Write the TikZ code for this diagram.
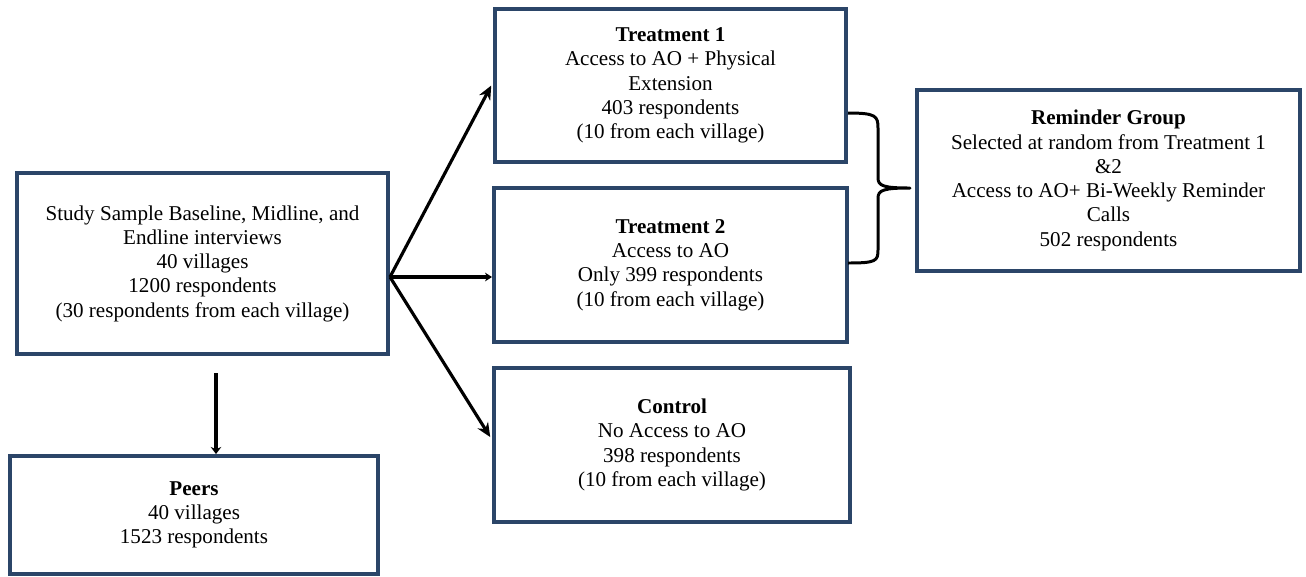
\documentclass[tikz,border=0pt]{standalone}
\usepackage{fontspec}
\setmainfont{Liberation Serif}
\usetikzlibrary{arrows.meta}
\definecolor{boxblue}{HTML}{2B4568}

\begin{document}
\begin{tikzpicture}[x=0.02cm,y=-0.02cm,->,>={Stealth[length=8pt,width=7pt]},line width=1.8pt,
font=\fontsize{12}{13.8}\selectfont]
\tikzstyle{group}=[draw=boxblue,line width=2.3pt,align=center,inner sep=2pt]

\useasboundingbox (0,0) rectangle (1306,576);

\node[group,minimum width=7.42cm,minimum height=3.62cm] (S) at (202.5,263.5)
{Study Sample Baseline, Midline, and\\ Endline interviews\\ 40 villages\\ 1200 respondents\\ (30 respondents from each village)};
\node[group,minimum width=7.36cm,minimum height=2.36cm] (P) at (194,515)
{\textbf{Peers}\\ 40 villages\\ 1523 respondents};
\node[group,minimum width=7.02cm,minimum height=3.06cm] (T1) at (670.5,85.5)
{\textbf{Treatment 1}\\ Access to AO + Physical\\ Extension\\ 403 respondents\\ (10 from each village)};
\node[group,minimum width=7.06cm,minimum height=3.08cm] (T2) at (670.5,265)
{\textbf{Treatment 2}\\ Access to AO\\ Only 399 respondents\\ (10 from each village)};
\node[group,minimum width=7.12cm,minimum height=3.08cm] (C) at (672,445)
{\textbf{Control}\\ No Access to AO\\ 398 respondents\\ (10 from each village)};
\node[group,minimum width=7.66cm,minimum height=3.62cm] (R) at (1108.5,180.5)
{\textbf{Reminder Group}\\ Selected at random from Treatment 1\\ \&2\\ Access to AO+ Bi-Weekly Reminder\\ Calls\\ 502 respondents};

\coordinate (fan) at (S.east |- 0,277);
\coordinate (drop) at (216,373);

% assignment arrows
\draw (fan) -- ([xshift=-1pt]T1.west);
\draw[line width=2.4pt,-{Stealth[length=4pt,width=5pt]}] (fan) -- (fan -| T2.west);
\draw (fan) -- ([xshift=-1pt,yshift=4.5pt]C.west);
\draw[line width=2.6pt,-{Stealth[length=4pt,width=6pt]}] (drop) -- (drop |- P.north);

% reminder brace
\coordinate (top) at (848,113);
\coordinate (tip) at (910,188);
\coordinate (bot) at (848,263);
\draw[-,line width=1.7pt,line join=round]
(top) .. controls (876,113) and (878,116) .. (878,128) -- (878,178)
.. controls (878,186) and (884,188) .. (tip)
.. controls (884,188) and (878,190) .. (878,198) -- (878,250)
.. controls (878,261) and (876,263) .. (bot);

\end{tikzpicture}
\end{document}
